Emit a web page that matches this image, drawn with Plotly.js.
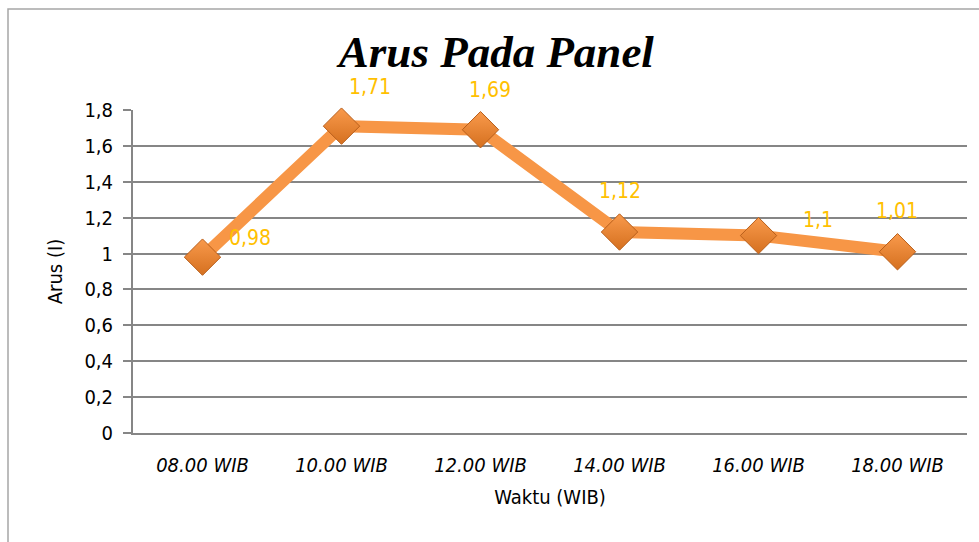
<!DOCTYPE html>
<html>
<head>
<meta charset="utf-8">
<script src="https://cdn.plot.ly/plotly-3.0.1.min.js"></script>
<style>html,body{margin:0;padding:0;background:#fff;}#chart{width:979px;height:542px;}</style>
</head>
<body>
<div id="chart"></div>
<script>
const categories = ["08.00 WIB", "10.00 WIB", "12.00 WIB", "14.00 WIB", "16.00 WIB", "18.00 WIB"];
const arusValues = [0.98, 1.71, 1.69, 1.12, 1.1, 1.01];
const yTickVals = [0, 0.2, 0.4, 0.6, 0.8, 1, 1.2, 1.4, 1.6, 1.8];
const yTickText = yTickVals.map(v => String(v).replace('.', ','));
const labelText = arusValues.map(v => String(v).replace('.', ','));
// label offsets in pixels (style, not data)
const labelDx = [47, 28, 9, 0, 59, -1];
const labelDy = [19, 39, 40, 41, 16, 41];

const narrow = "'DejaVu Sans Condensed', 'Liberation Sans Narrow', sans-serif";

const trace = {
  x: categories,
  y: arusValues,
  type: 'scatter',
  mode: 'lines+markers',
  line: {color: '#F79646', width: 12},
  marker: {
    symbol: 'diamond',
    size: 28,
    color: '#F99A4C',
    gradient: {type: 'vertical', color: '#D5701F'},
    line: {color: '#B85E1A', width: 1}
  },
  cliponaxis: false,
  hoverinfo: 'skip'
};

const annotations = categories.map((c, i) => ({
  x: c, y: arusValues[i], xref: 'x', yref: 'y',
  text: labelText[i], showarrow: false,
  xshift: labelDx[i], yshift: labelDy[i],
  font: {family: narrow, size: 21, color: '#FFC000'}
}));

const W = 834;
const H = 323;
function px(x) { return (x - 133) / W; }
function py(y) { return (433 - y) / H; }

const layout = {
  width: 979,
  height: 542,
  margin: {l: 133, r: 12, t: 110, b: 109},
  paper_bgcolor: '#ffffff',
  plot_bgcolor: '#ffffff',
  showlegend: false,
  separators: ',.',
  title: {
    text: '<b><i>Arus Pada Panel</i></b>',
    font: {family: "'Liberation Serif', 'DejaVu Serif', serif", size: 45, color: '#000'},
    x: 0.507, xanchor: 'center',
    y: 0.906, yanchor: 'middle', yref: 'container'
  },
  annotations: annotations,
  xaxis: {
    type: 'category',
    showgrid: false,
    showline: true,
    linecolor: '#868686',
    linewidth: 2,
    ticks: '',
    tickfont: {family: narrow, size: 20, color: '#000', style: 'italic'},
    ticklabelstandoff: 13,
    title: {text: 'Waktu (WIB)', font: {family: narrow, size: 20, color: '#000'}, standoff: 14},
    range: [-0.5, 5.5],
    fixedrange: true
  },
  yaxis: {
    range: [0, 1.8],
    tickvals: yTickVals,
    ticktext: yTickText,
    showgrid: true,
    gridcolor: '#868686',
    gridwidth: 2,
    zeroline: false,
    showline: true,
    linecolor: '#868686',
    linewidth: 2,
    ticks: 'outside',
    ticklen: 8,
    tickcolor: '#868686',
    tickwidth: 2,
    ticklabelstandoff: 6,
    tickfont: {family: narrow, size: 20, color: '#000'},
    title: {text: 'Arus (I)', font: {family: narrow, size: 20, color: '#000'}, standoff: 16},
    fixedrange: true
  },
  shapes: [{
    type: 'rect', xref: 'paper', yref: 'paper',
    x0: px(8), x1: px(990), y0: py(9), y1: py(560),
    line: {color: '#a6a6a6', width: 1.5},
    fillcolor: 'rgba(0,0,0,0)',
    layer: 'below'
  }]
};

Plotly.newPlot('chart', [trace], layout, {displayModeBar: false, staticPlot: true});
</script>
</body>
</html>
